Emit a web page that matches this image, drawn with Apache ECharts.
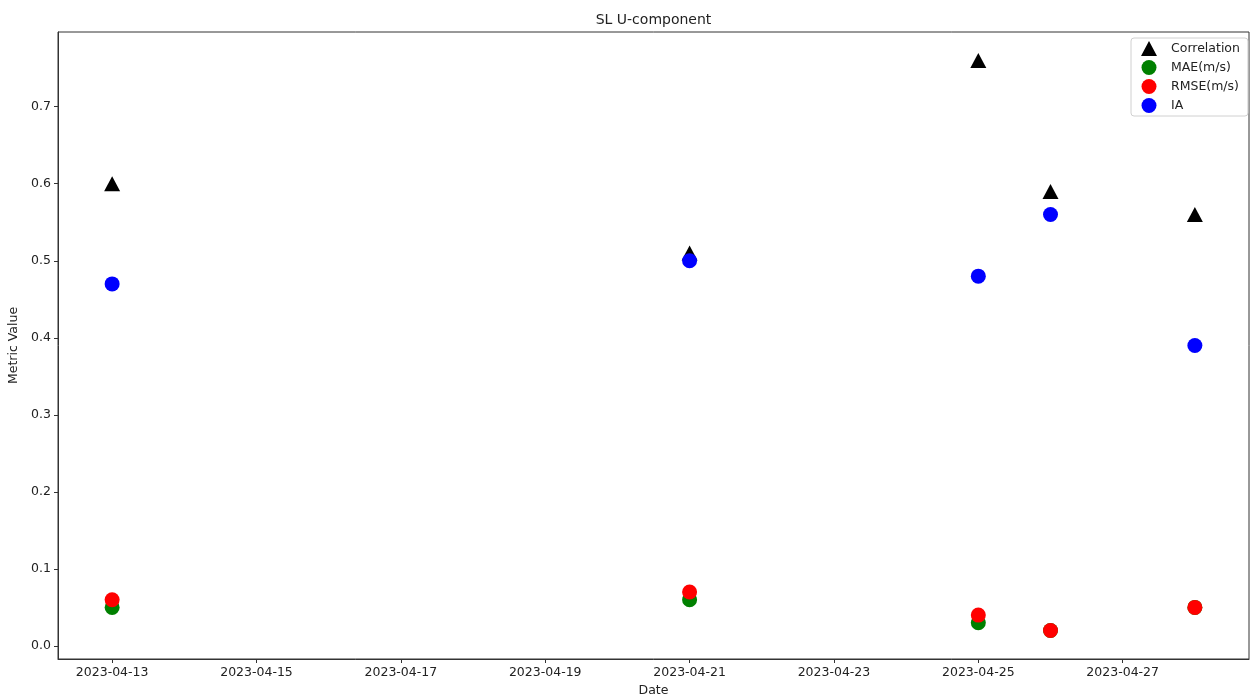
<!DOCTYPE html>
<html>
<head>
<meta charset="utf-8">
<title>SL U-component</title>
<script src="https://cdn.jsdelivr.net/npm/echarts@6/dist/echarts.min.js"></script>
<style>
  html, body { margin: 0; padding: 0; background: #fff; }
  #chart { width: 1250px; height: 698px; }
</style>
</head>
<body>
<div id="chart"></div>
<script>
// Evaluation dates and metric values per date
const dates = ['2023-04-13', '2023-04-21', '2023-04-25', '2023-04-26', '2023-04-28'];
const correlation = [0.60, 0.51, 0.76, 0.59, 0.56];
const mae = [0.05, 0.06, 0.03, 0.02, 0.05];
const rmse = [0.06, 0.07, 0.04, 0.02, 0.05];
const ia = [0.47, 0.50, 0.48, 0.56, 0.39];

// Axis tick labels
const xTickLabels = ['2023-04-13', '2023-04-15', '2023-04-17', '2023-04-19',
                     '2023-04-21', '2023-04-23', '2023-04-25', '2023-04-27'];
const yTickValues = [0.0, 0.1, 0.2, 0.3, 0.4, 0.5, 0.6, 0.7];

const toMs = s => { const [y, m, d] = s.split('-').map(Number); return Date.UTC(y, m - 1, d); };
const fmtDate = ms => new Date(ms).toISOString().slice(0, 10);

const xs = dates.map(toMs);
const pairs = vals => xs.map((x, i) => [x, vals[i]]);

// 5% margins around the data range
const xMin = Math.min(...xs), xMax = Math.max(...xs);
const xPad = (xMax - xMin) * 0.05;
const allY = correlation.concat(mae, rmse, ia);
const yMin = Math.min(...allY), yMax = Math.max(...allY);
const yPad = (yMax - yMin) * 0.05;

const FONT = 'DejaVu Sans';
const TEXT = '#222';
const AXIS = '#333';

const grid = { left: 58, right: 1, top: 32, bottom: 39 };

const chart = echarts.init(document.getElementById('chart'), null, { renderer: 'canvas' });

const baseSeries = (name, data, color, symbol, size) => ({
  name, type: 'scatter', data: pairs(data), symbol, symbolSize: size,
  itemStyle: { color, opacity: 1 },
  emphasis: { disabled: true },
  animation: false
});

chart.setOption({
  animation: false,
  backgroundColor: '#fff',
  textStyle: { fontFamily: FONT },
  grid: Object.assign({
    show: true, borderColor: AXIS, borderWidth: 1,
    containLabel: false, outerBoundsMode: 'none'
  }, grid),
  graphic: [{
    type: 'text',
    x: grid.left + (1250 - grid.left - grid.right) / 2,
    y: 20,
    style: { text: 'SL U-component', font: '14px "DejaVu Sans"', fill: TEXT, align: 'center', verticalAlign: 'middle' }
  }],
  legend: {
    orient: 'vertical',
    left: 1131, top: 38,
    padding: [3, 8, 3, 10],
    itemWidth: 16, itemHeight: 15, itemGap: 4,
    borderColor: '#d0d0d0', borderWidth: 1, borderRadius: 3,
    backgroundColor: 'rgba(255,255,255,0.8)',
    textStyle: { fontFamily: FONT, fontSize: 12.5, color: TEXT, lineHeight: 15, padding: [0, 0, 0, 9] },
    selectedMode: false,
    data: [
      { name: 'Correlation', icon: 'triangle' },
      { name: 'MAE(m/s)', icon: 'circle' },
      { name: 'RMSE(m/s)', icon: 'circle' },
      { name: 'IA', icon: 'circle' }
    ]
  },
  xAxis: {
    type: 'value',
    min: xMin - xPad, max: xMax + xPad,
    name: 'Date', nameLocation: 'middle', nameGap: 25,
    nameTextStyle: { fontFamily: FONT, fontSize: 12.5, color: TEXT },
    axisLine: { show: true, onZero: false, lineStyle: { color: AXIS, width: 1 } },
    axisTick: { show: true, length: 4, lineStyle: { color: AXIS }, customValues: xTickLabels.map(toMs) },
    axisLabel: {
      fontFamily: FONT, fontSize: 12.5, color: TEXT, margin: 7,
      customValues: xTickLabels.map(toMs),
      formatter: v => fmtDate(v)
    },
    splitLine: { show: false }
  },
  yAxis: {
    type: 'value',
    min: yMin - yPad, max: yMax + yPad,
    name: 'Metric Value', nameLocation: 'middle', nameGap: 30, nameRotate: 90,
    nameTextStyle: { fontFamily: FONT, fontSize: 12.5, color: TEXT },
    axisLine: { show: true, onZero: false, lineStyle: { color: AXIS, width: 1 } },
    axisTick: { show: true, length: 4, lineStyle: { color: AXIS }, customValues: yTickValues },
    axisLabel: {
      fontFamily: FONT, fontSize: 12.5, color: TEXT, margin: 7,
      customValues: yTickValues,
      formatter: v => v.toFixed(1)
    },
    splitLine: { show: false }
  },
  series: [
    baseSeries('Correlation', correlation, '#000000', 'triangle', [16, 15]),
    baseSeries('MAE(m/s)', mae, '#008000', 'circle', 15),
    baseSeries('RMSE(m/s)', rmse, '#ff0000', 'circle', 15),
    baseSeries('IA', ia, '#0000ff', 'circle', 15)
  ]
});
</script>
</body>
</html>
